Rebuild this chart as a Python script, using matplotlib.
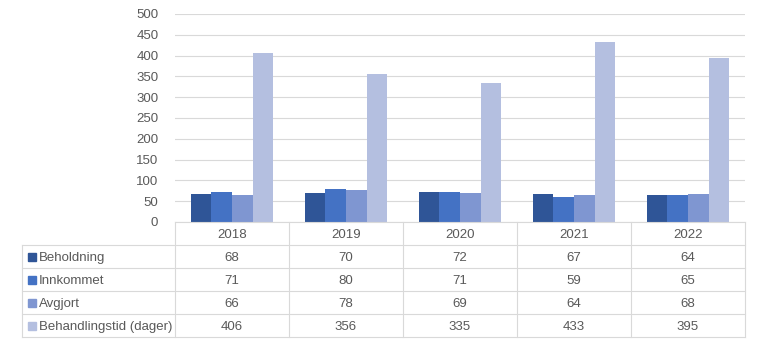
import numpy as np
import matplotlib
matplotlib.use('Agg')
import matplotlib.pyplot as plt
from matplotlib.patches import Rectangle

years = ['2018', '2019', '2020', '2021', '2022']
series_names = ['Beholdning', 'Innkommet', 'Avgjort', 'Behandlingstid (dager)']
beholdning = [68, 70, 72, 67, 64]
innkommet = [71, 80, 71, 59, 65]
avgjort = [66, 78, 69, 64, 68]
behandlingstid = [406, 356, 335, 433, 395]

colors = ['#2F5597', '#4472C4', '#7F96D1', '#B4BFE0']
txt_col = '#595959'
grid_col = '#D9D9D9'

plt.rcParams['font.family'] = ['Liberation Sans', 'DejaVu Sans']

W, H = 760, 344
fig = plt.figure(figsize=(W / 100, H / 100), dpi=100)

# plot area in pixels
x0, x1 = 175, 745
y_top, y_bot = 14, 222
ax = fig.add_axes([x0 / W, 1 - y_bot / H, (x1 - x0) / W, (y_bot - y_top) / H])

data = [beholdning, innkommet, avgjort, behandlingstid]
n = len(years)
bw = 0.18
x = np.arange(n)
for i, vals in enumerate(data):
    ax.bar(x + (i - 1.5) * bw, vals, bw, color=colors[i], zorder=3)

ax.set_xlim(-0.5, n - 0.5)
ax.set_ylim(0, 500)
ax.set_yticks(range(0, 501, 50))
ax.tick_params(axis='y', length=0, labelsize=9.5, labelcolor=txt_col, pad=12)
ax.set_xticks([])
ax.grid(axis='y', color=grid_col, linewidth=0.8, zorder=0)
for s in ax.spines.values():
    s.set_visible(False)

# data table drawn below the axes
def fx(px):
    return px / W

def fy(py):
    return 1 - py / H

lab_left = 22
row_h = 23
col_w = (x1 - x0) / n
lw = 0.8

# header row (years)
fig.add_artist(plt.Line2D([fx(x0), fx(x1)], [fy(y_bot), fy(y_bot)], color=grid_col, lw=lw))
for j in range(n + 1):
    xx = x0 + j * col_w
    fig.add_artist(plt.Line2D([fx(xx), fx(xx)], [fy(y_bot), fy(y_bot + row_h * 5)], color=grid_col, lw=lw))
for j, yr in enumerate(years):
    fig.text(fx(x0 + (j + 0.5) * col_w), fy(y_bot + row_h / 2), yr, ha='center', va='center_baseline',
             fontsize=9.5, color=txt_col)

# series rows
for r in range(len(series_names)):
    yy = y_bot + row_h * (r + 1)
    fig.add_artist(plt.Line2D([fx(lab_left), fx(x1)], [fy(yy), fy(yy)], color=grid_col, lw=lw))
    yc = yy + row_h / 2
    fig.add_artist(Rectangle((fx(28), fy(yc + 4)), 8 / W, 8 / H, color=colors[r], transform=fig.transFigure))
    fig.text(fx(39), fy(yc), series_names[r], ha='left', va='center_baseline', fontsize=9.5, color=txt_col)
    for j in range(n):
        fig.text(fx(x0 + (j + 0.5) * col_w), fy(yc), str(data[r][j]), ha='center', va='center_baseline',
                 fontsize=9.5, color=txt_col)
yy = y_bot + row_h * 5
fig.add_artist(plt.Line2D([fx(lab_left), fx(x1)], [fy(yy), fy(yy)], color=grid_col, lw=lw))
fig.add_artist(plt.Line2D([fx(lab_left), fx(lab_left)], [fy(y_bot + row_h), fy(yy)], color=grid_col, lw=lw))

fig.savefig('out.png', dpi=100, facecolor='white')
